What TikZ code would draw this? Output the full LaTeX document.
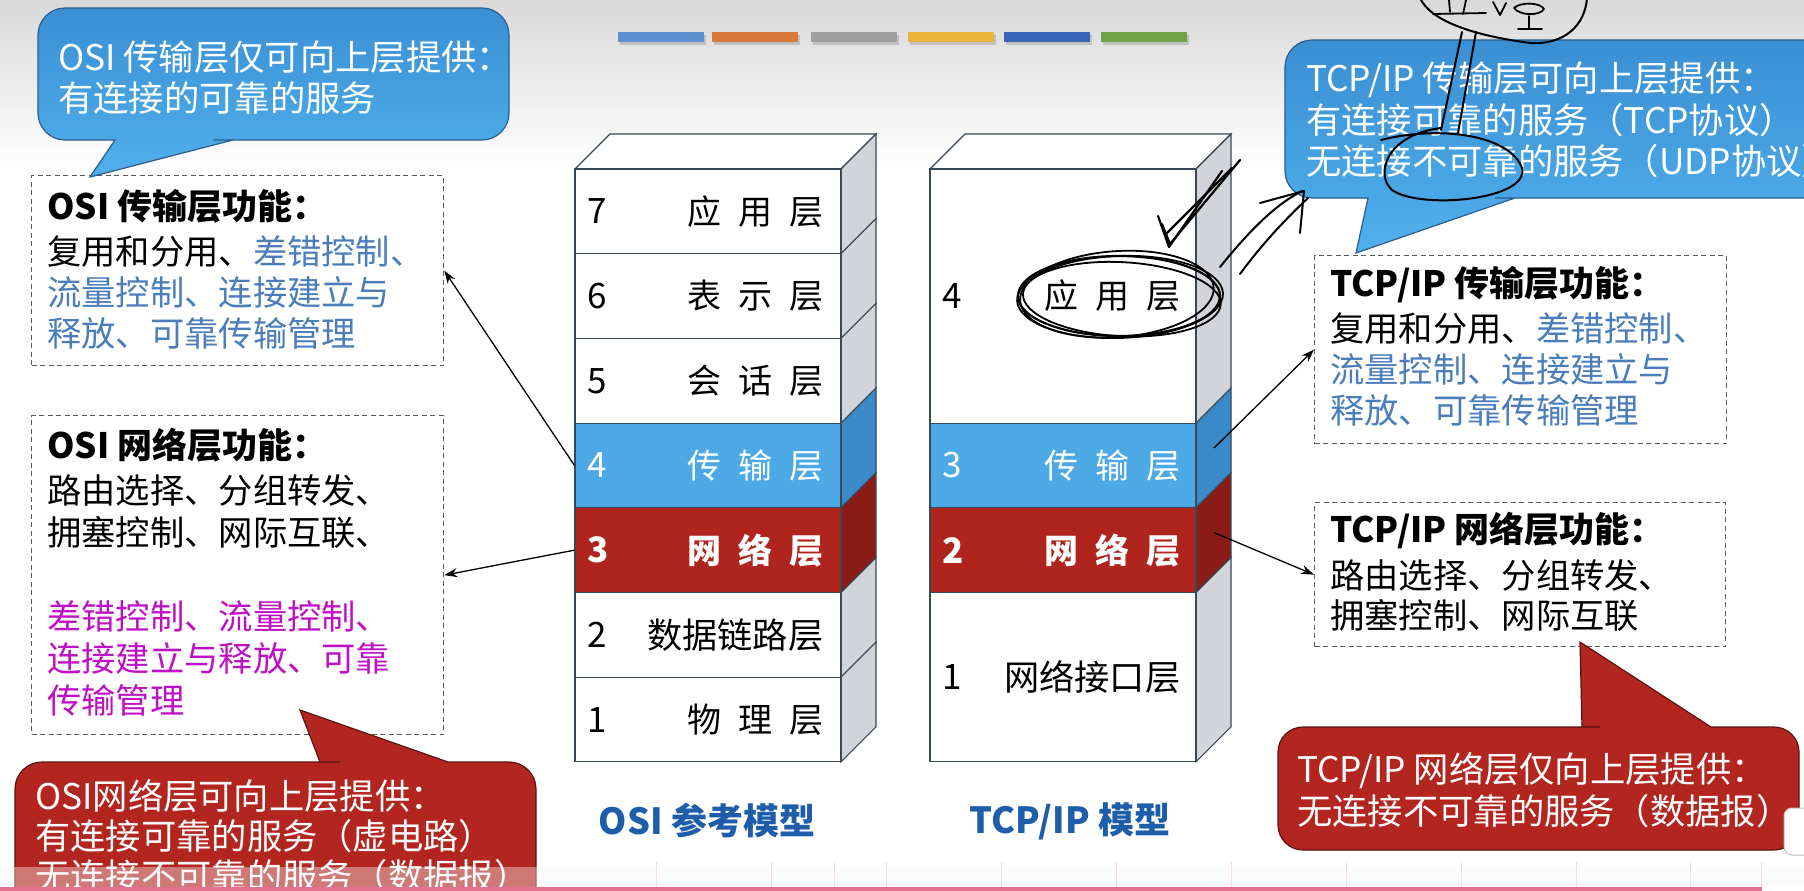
\documentclass[tikz,border=0pt]{standalone}
\usepackage{fontspec}
\setmainfont{Noto Sans CJK SC}
\usetikzlibrary{calc,arrows.meta}

\definecolor{bgtop}{HTML}{D9D9D9}
\definecolor{fnblue}{HTML}{4A7DBA}
\definecolor{fnmag}{HTML}{BE10C4}
\definecolor{ttlblue}{HTML}{1E5DAA}
\definecolor{cbluetop}{HTML}{3A8FD3}
\definecolor{cbluebot}{HTML}{50B0EC}
\definecolor{cblueline}{HTML}{2B5E8C}
\definecolor{credfill}{HTML}{B3251F}
\definecolor{credline}{HTML}{5A1311}
\definecolor{lyblue}{HTML}{4CA9E6}
\definecolor{lybluesd}{HTML}{3A8ACA}
\definecolor{lyred}{HTML}{B0241E}
\definecolor{lyredsd}{HTML}{8B1B16}
\definecolor{lyside}{HTML}{D3D4D9}
\definecolor{lyline}{HTML}{3A4756}
\definecolor{barA}{HTML}{5B8FD0}
\definecolor{barB}{HTML}{D8783A}
\definecolor{barC}{HTML}{9E9E9E}
\definecolor{barD}{HTML}{E8B73A}
\definecolor{barE}{HTML}{3A66B8}
\definecolor{barF}{HTML}{6EA246}
\definecolor{pinkline}{HTML}{E2708F}

\newcommand{\chgap}{\hspace{17pt}}
% side face of one layer: x of front right edge, top y, bottom y, colour
\newcommand{\sideface}[4]{%
  \filldraw[fill=#4, draw=lyline, line width=1.1pt]
    (#1,#2) -- (#1+35,#2-35) -- (#1+35,#3-35) -- (#1,#3) -- cycle;}

\begin{document}
\begin{tikzpicture}[x=1pt,y=-1pt,
  layer/.style={draw=lyline, line width=1.1pt, minimum width=266pt, inner sep=0pt, fill=white},
  numlbl/.style={font=\fontsize{35}{40}\selectfont, inner sep=0pt, anchor=west},
  laylbl/.style={font=\fontsize{34}{40}\selectfont, inner sep=0pt, anchor=east},
  widelbl/.style={font=\fontsize{35.2}{40}\selectfont, inner sep=0pt, anchor=east},
  fnbox/.style={draw=black!65, dash pattern=on 5pt off 3.5pt, line width=1.3pt, inner sep=0pt, anchor=north west},
  fnhead/.style={font=\fontsize{35}{40}\selectfont\bfseries, inner sep=0pt, anchor=west},
  fnbody/.style={inner sep=0pt, anchor=north west, align=left},
  calltext/.style={text=white, inner sep=0pt, anchor=north west, align=left},
  callblue/.style={top color=cbluetop, bottom color=cbluebot, draw=cblueline, line width=1.2pt},
  callred/.style={fill=credfill, draw=credline, line width=1.2pt},
  modelttl/.style={font=\fontsize{36}{40}\selectfont\bfseries, text=ttlblue, inner sep=0pt},
  conn/.style={draw=black, line width=1.3pt, -{Stealth[length=13pt,width=9pt]}},
  hand/.style={draw=black, line width=2.2pt, line cap=round, line join=round}
]
\useasboundingbox (0,0) rectangle (1804,891);
\clip (0,0) rectangle (1804,891);

% page background with the grey band at the top
\fill[white] (0,0) rectangle (1804,891);
\shade[top color=bgtop, bottom color=white] (0,0) rectangle (1804,170);

% colour bars under the title
\foreach \x/\c in {618/barA,712/barB,811/barC,908/barD,1004/barE,1101/barF}{
  \fill[black, opacity=0.15] (\x+2,35) rectangle (\x+88,45);
  \fill[\c] (\x,32) rectangle (\x+86,42);
}

% ---------- OSI stack ----------
\filldraw[fill=white, draw=lyline, line width=1.1pt] (575,169) -- (610,134) -- (876,134) -- (841,169) -- cycle;
\sideface{841}{169}{253.7}{lyside}
\sideface{841}{253.7}{338.4}{lyside}
\sideface{841}{338.4}{423.1}{lyside}
\sideface{841}{423.1}{507.8}{lybluesd}
\sideface{841}{507.8}{592.5}{lyredsd}
\sideface{841}{592.5}{677.2}{lyside}
\sideface{841}{677.2}{761.9}{lyside}

\node[layer, minimum height=84.7pt] (o7) at (708,211.35) {};
\node[layer, minimum height=84.7pt] (o6) at (708,296.05) {};
\node[layer, minimum height=84.7pt] (o5) at (708,380.75) {};
\node[layer, minimum height=84.7pt, fill=lyblue] (o4) at (708,465.45) {};
\node[layer, minimum height=84.7pt, fill=lyred] (o3) at (708,550.15) {};
\node[layer, minimum height=84.7pt] (o2) at (708,634.85) {};
\node[layer, minimum height=84.7pt] (o1) at (708,719.55) {};

\node[numlbl] (o7n) at ($(o7.west)+(13,0)$) {7};
\node[numlbl] (o6n) at ($(o6.west)+(13,0)$) {6};
\node[numlbl] (o5n) at ($(o5.west)+(13,0)$) {5};
\node[numlbl, text=white] (o4n) at ($(o4.west)+(13,0)$) {4};
\node[numlbl, text=white, font=\fontsize{35}{40}\selectfont\bfseries] (o3n) at ($(o3.west)+(13,0)$) {3};
\node[numlbl] (o2n) at ($(o2.west)+(13,0)$) {2};
\node[numlbl] (o1n) at ($(o1.west)+(13,0)$) {1};

\node[laylbl] (o7l) at ($(o7.east)+(-18,0)$) {应\chgap 用\chgap 层};
\node[laylbl] (o6l) at ($(o6.east)+(-18,0)$) {表\chgap 示\chgap 层};
\node[laylbl] (o5l) at ($(o5.east)+(-18,0)$) {会\chgap 话\chgap 层};
\node[laylbl, text=white] (o4l) at ($(o4.east)+(-18,0)$) {传\chgap 输\chgap 层};
\node[laylbl, text=white, font=\fontsize{34}{40}\selectfont\bfseries] (o3l) at ($(o3.east)+(-18,0)$) {网\chgap 络\chgap 层};
\node[widelbl] (o2l) at ($(o2.east)+(-18,0)$) {数据链路层};
\node[laylbl] (o1l) at ($(o1.east)+(-18,0)$) {物\chgap 理\chgap 层};

% ---------- TCP/IP stack ----------
\filldraw[fill=white, draw=lyline, line width=1.1pt] (930,169) -- (965,134) -- (1231,134) -- (1196,169) -- cycle;
\sideface{1196}{169}{423.1}{lyside}
\sideface{1196}{423.1}{507.8}{lybluesd}
\sideface{1196}{507.8}{592.5}{lyredsd}
\sideface{1196}{592.5}{761.9}{lyside}

\node[layer, minimum height=254.1pt] (t4) at (1063,296.05) {};
\node[layer, minimum height=84.7pt, fill=lyblue] (t3) at (1063,465.45) {};
\node[layer, minimum height=84.7pt, fill=lyred] (t2) at (1063,550.15) {};
\node[layer, minimum height=169.4pt] (t1) at (1063,677.2) {};

\node[numlbl] (t4n) at ($(t4.west)+(13,0)$) {4};
\node[numlbl, text=white] (t3n) at ($(t3.west)+(13,0)$) {3};
\node[numlbl, text=white, font=\fontsize{35}{40}\selectfont\bfseries] (t2n) at ($(t2.west)+(13,0)$) {2};
\node[numlbl] (t1n) at ($(t1.west)+(13,0)$) {1};

\node[laylbl] (t4l) at ($(t4.east)+(-16,0)$) {应\chgap 用\chgap 层};
\node[laylbl, text=white] (t3l) at ($(t3.east)+(-16,0)$) {传\chgap 输\chgap 层};
\node[laylbl, text=white, font=\fontsize{34}{40}\selectfont\bfseries] (t2l) at ($(t2.east)+(-16,0)$) {网\chgap 络\chgap 层};
\node[widelbl] (t1l) at ($(t1.east)+(-16,0)$) {网络接口层};

% centres of the side faces of the TCP/IP transport and network layers
\coordinate (t3s) at ($(t3.east)+(17.5,-17.5)$);
\coordinate (t2s) at ($(t2.east)+(17.5,-17.5)$);

\node[modelttl] (osiname) at (707,821) {OSI 参考模型};
\node[modelttl] (tcpname) at (1070,821) {TCP/IP 模型};

% ---------- function boxes ----------
\node[fnbox, minimum width=412pt, minimum height=190pt] (b1) at (31,175) {};
\node[fnhead] (b1h) at (47,206) {OSI 传输层功能：};
\node[fnbody, font=\fontsize{34.3}{41}\selectfont] (b1b) at (47,235) {复用和分用、\textcolor{fnblue}{差错控制、}\\
\textcolor{fnblue}{流量控制、连接建立与}\\
\textcolor{fnblue}{释放、可靠传输管理}};

\node[fnbox, minimum width=412pt, minimum height=319pt] (b2) at (31,415) {};
\node[fnhead] (b2h) at (47,445) {OSI 网络层功能：};
\node[fnbody, font=\fontsize{34.3}{42}\selectfont] (b2b) at (47,474) {路由选择、分组转发、\\
拥塞控制、网际互联、\\
\mbox{}\\
\textcolor{fnmag}{差错控制、流量控制、}\\
\textcolor{fnmag}{连接建立与释放、可靠}\\
\textcolor{fnmag}{传输管理}};

\node[fnbox, minimum width=412pt, minimum height=188pt] (b3) at (1314,255) {};
\node[fnhead] (b3h) at (1330,285) {TCP/IP 传输层功能：};
\node[fnbody, font=\fontsize{34.3}{41}\selectfont] (b3b) at (1330,312) {复用和分用、\textcolor{fnblue}{差错控制、}\\
\textcolor{fnblue}{流量控制、连接建立与}\\
\textcolor{fnblue}{释放、可靠传输管理}};

\node[fnbox, minimum width=411pt, minimum height=144pt] (b4) at (1314,502) {};
\node[fnhead] (b4h) at (1330,530) {TCP/IP 网络层功能：};
\node[fnbody, font=\fontsize{34.3}{40}\selectfont] (b4b) at (1330,559) {路由选择、分组转发、\\
拥塞控制、网际互联};

% ---------- connectors ----------
\draw[conn] (o4.west) -- (b1.east);
\draw[conn] (o3.west) -- (b2.east);
\draw[conn] (t3s) -- (b3.west);
\draw[conn] (t2s) -- (b4.west);

% ---------- callouts ----------
\shadedraw[callblue] (90,177) -- (115,140) -- (110,140) [rounded corners=27pt] -- (38,140) -- (38,8) -- (509,8) -- (509,140) -- (240,140) [sharp corners] -- (233,140) -- cycle;
\node[calltext, font=\fontsize{35.3}{41}\selectfont] (c1t) at (58,41) {OSI 传输层仅可向上层提供：\\有连接的可靠的服务};

\shadedraw[callblue] (1356,253) -- (1368,198) -- (1362,198) [rounded corners=27pt] -- (1285,198) -- (1285,40) -- (1830,40) -- (1830,198) -- (1522,198) [sharp corners] -- (1515,198) -- cycle;
\node[calltext, font=\fontsize{35.3}{41.5}\selectfont] (c2t) at (1306,62) {TCP/IP 传输层可向上层提供：\\有连接可靠的服务（TCP协议）\\无连接不可靠的服务（UDP协议）};

\filldraw[callred] (300,710) -- (448,762) -- (455,762) [rounded corners=27pt] -- (536,762) -- (536,930) -- (15,930) -- (15,762) -- (313,762) [sharp corners] -- (320,762) -- cycle;
\node[calltext, font=\fontsize{35.3}{40}\selectfont] (c3t) at (35,779) {OSI网络层可向上层提供：\\有连接可靠的服务（虚电路）\\无连接不可靠的服务（数据报）};

\filldraw[callred] (1580,642) -- (1711,727) -- (1718,727) [rounded corners=25pt] -- (1799,727) -- (1799,850) -- (1278,850) -- (1278,727) -- (1575,727) [sharp corners] -- (1582,727) -- cycle;
\node[calltext, font=\fontsize{35.3}{42}\selectfont] (c4t) at (1297,752) {TCP/IP 网络层仅向上层提供：\\无连接不可靠的服务（数据报）};

% ---------- pen annotations ----------
\draw[hand] (1119,296) ellipse [x radius=101pt, y radius=40pt];
\draw[hand, line width=1.8pt, rotate around={4:(1119,296)}] (1117,294) ellipse [x radius=97pt, y radius=43pt];
\draw[hand, line width=1.8pt, rotate around={-3:(1119,296)}] (1122,299) ellipse [x radius=99pt, y radius=37pt];
\draw[hand, line width=1.8pt, rotate around={2:(1119,296)}] (1120,297) ellipse [x radius=103pt, y radius=41pt];

\draw[hand] (1158,216) -- (1169,247) -- (1222,171);
\draw[hand] (1162,224) -- (1170,244) -- (1240,160);
\draw[hand] (1166,234) -- (1232,168);

\draw[hand, line width=2pt] (1220,267) .. controls (1250,230) and (1275,205) .. (1302,191);
\draw[hand, line width=2pt] (1240,274) .. controls (1265,240) and (1290,215) .. (1308,198);
\draw[hand, line width=2pt] (1260,203) -- (1304,191) -- (1300,233);

\draw[hand, line width=2pt] (1381,140) .. controls (1440,125) and (1510,135) .. (1522,168) .. controls (1530,200) and (1420,210) .. (1392,190) .. controls (1375,175) and (1385,135) .. (1441,128);
\draw[hand, line width=2pt] (1441,130) -- (1462,32);
\draw[hand, line width=2pt] (1458,133) -- (1476,32);

\draw[hand, line width=2pt] (1420,-2) .. controls (1430,20) and (1470,35) .. (1530,43) .. controls (1565,45) and (1585,25) .. (1587,-2);
\draw[hand, line width=1.8pt] (1433,14) -- (1486,13);
\draw[hand, line width=1.8pt] (1449,0) -- (1450,12);
\draw[hand, line width=1.8pt] (1466,0) -- (1463,14);
\draw[hand, line width=1.8pt] (1493,2) -- (1500,15) -- (1506,3);
\draw[hand, line width=1.8pt] (1514,8) .. controls (1520,2) and (1540,2) .. (1544,9) .. controls (1540,16) and (1520,16) .. (1514,8);
\draw[hand, line width=1.8pt] (1529,16) -- (1529,29);
\draw[hand, line width=1.8pt] (1518,29) -- (1542,29);

% ---------- player strip at the bottom ----------
\fill[white!94!gray, opacity=0.4] (0,867) rectangle (1804,887);
\foreach \x in {656,771,834,886,1001,1116,1231,1346,1461,1576,1690,1761}{
  \draw[pinkline!25, line width=1pt] (\x,862) -- (\x,887);
}
\fill[pinkline] (0,887) rectangle (1762,891);
\filldraw[fill=white, draw=black!25, line width=1pt, rounded corners=8pt] (1784,808) rectangle (1815,855);
\end{tikzpicture}
\end{document}
